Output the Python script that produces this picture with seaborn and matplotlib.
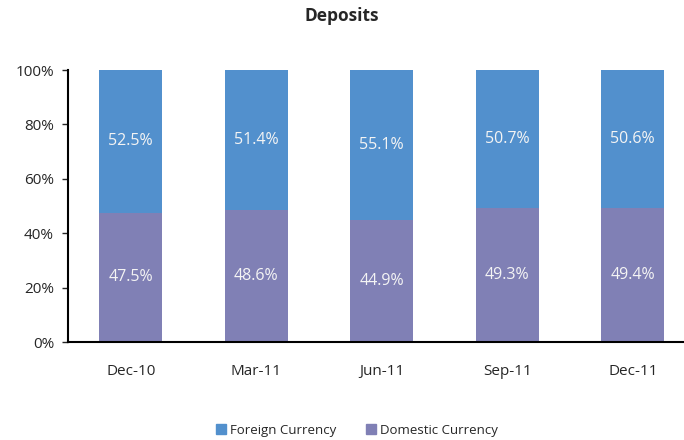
import numpy as np
import pandas as pd
import seaborn as sns
import matplotlib.pyplot as plt
from matplotlib.patches import Patch

# quarterly deposit split
quarters = ["Dec-10", "Mar-11", "Jun-11", "Sep-11", "Dec-11"]
foreign = [52.5, 51.4, 55.1, 50.7, 50.6]
domestic = [47.5, 48.6, 44.9, 49.3, 49.4]

blue = "#5290CD"
purple = "#8080B5"

sns.set_style("white")
plt.rcParams['font.family'] = ['Open Sans', 'DejaVu Sans']

df = pd.DataFrame({"Quarter": quarters, "Foreign": foreign, "Domestic": domestic})
df["Total"] = df["Foreign"] + df["Domestic"]

fig = plt.figure(figsize=(6.84, 4.4), dpi=100)
ax = fig.add_axes([68 / 684, 1 - 342 / 440, 627.5 / 684, 272 / 440])

sns.barplot(data=df, x="Quarter", y="Total", color=blue, width=0.5,
            saturation=1, linewidth=0, ax=ax)
sns.barplot(data=df, x="Quarter", y="Domestic", color=purple, width=0.5,
            saturation=1, linewidth=0, ax=ax)

for i in range(len(quarters)):
    ax.text(i, domestic[i] + foreign[i] / 2, f"{foreign[i]:.1f}%", ha="center",
            va="center", color="#F4F4F4", fontsize=11.5)
    ax.text(i, domestic[i] / 2, f"{domestic[i]:.1f}%", ha="center",
            va="center", color="#F4F4F4", fontsize=11.5)

ax.set_xlim(-0.5, 4.5)
ax.set_ylim(0, 100)
ax.set_yticks(np.arange(0, 101, 20))
ax.set_yticklabels([f"{v}%" for v in range(0, 101, 20)], fontsize=11)
ax.set_xticks(range(len(quarters)))
ax.set_xticklabels(quarters, fontsize=11)
ax.set_xticks(np.arange(-0.5, 4.6, 1), minor=True)
ax.tick_params(axis="x", which="major", length=0, pad=16)
ax.tick_params(axis="x", which="minor", length=4, width=1, direction="out")
ax.tick_params(axis="y", length=4, width=1, direction="out", pad=6, left=True)
ax.set_xlabel("")
ax.set_ylabel("")

for s in ["top", "right"]:
    ax.spines[s].set_visible(False)
for s in ["left", "bottom"]:
    ax.spines[s].set_color("black")
    ax.spines[s].set_linewidth(1.5)

fig.text(342 / 684, 1 - 16 / 440, "Deposits", ha="center", va="center",
         fontsize=12.5, fontweight="bold")

handles = [Patch(color=blue, label="Foreign Currency"),
           Patch(color=purple, label="Domestic Currency")]
fig.legend(handles=handles, loc="center", bbox_to_anchor=(357 / 684, 1 - 430 / 440),
           ncol=2, frameon=False, fontsize=9.5, handlelength=0.8, handleheight=0.8,
           handletextpad=0.3, columnspacing=2.2)

fig.savefig("out.png", dpi=100)
